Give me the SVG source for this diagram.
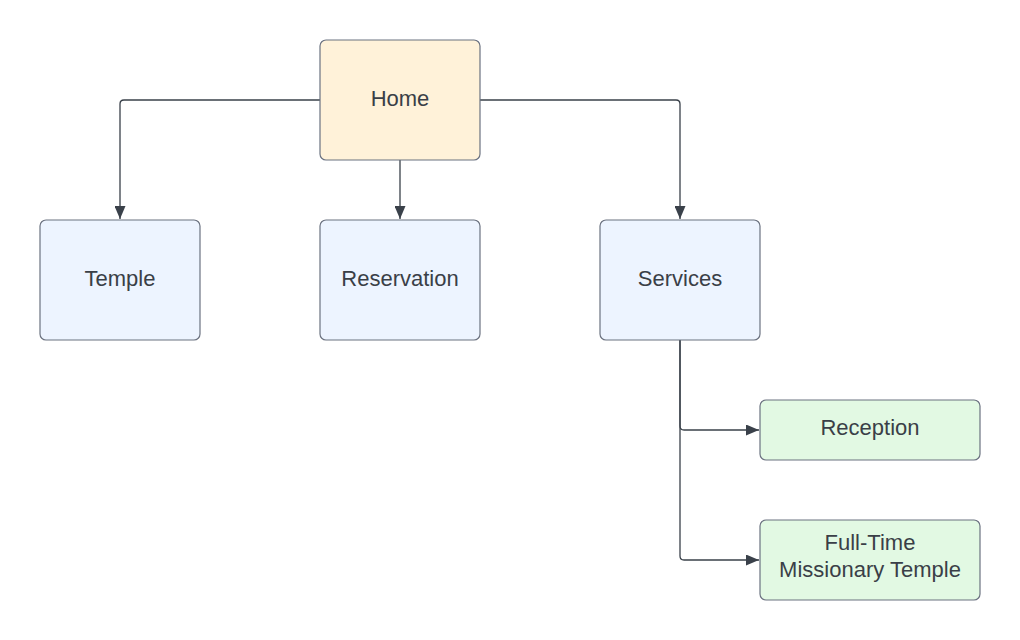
<svg xmlns="http://www.w3.org/2000/svg" width="1020" height="640" viewBox="0 0 1020 640">
<style>
.box{stroke:#6b7280;stroke-width:1.2}
.home{fill:#fff2d9}
.blue{fill:#edf4ff}
.green{fill:#e2f9e3}
.lbl{font-family:"Liberation Sans",Arial,sans-serif;font-size:22px;fill:#3a3f47;text-anchor:middle;dominant-baseline:central}
.con{fill:none;stroke:#3a414a;stroke-width:1.3}
</style>
<defs>
<marker id="arr" viewBox="0 0 13 11" refX="13" refY="5.5" markerWidth="13" markerHeight="11" markerUnits="userSpaceOnUse" orient="auto">
<path d="M0,0 L13,5.5 L0,11 Z" fill="#3a414a"/>
</marker>
</defs>
<rect width="1020" height="640" fill="#ffffff"/>
<g id="connectors">
<path class="con" d="M320,100 H124 Q120,100 120,104 V219" marker-end="url(#arr)"/>
<path class="con" d="M400,160 V219" marker-end="url(#arr)"/>
<path class="con" d="M480,100 H676 Q680,100 680,104 V219" marker-end="url(#arr)"/>
<path class="con" d="M680,340 V426 Q680,430 684,430 H759" marker-end="url(#arr)"/>
<path class="con" d="M680,340 V556 Q680,560 684,560 H759" marker-end="url(#arr)"/>
</g>
<g id="home">
<rect class="box home" x="320" y="40" width="160" height="120" rx="6"/>
<text class="lbl" x="400" y="98">Home</text>
</g>
<g id="temple">
<rect class="box blue" x="40" y="220" width="160" height="120" rx="6"/>
<text class="lbl" x="120" y="278">Temple</text>
</g>
<g id="reservation">
<rect class="box blue" x="320" y="220" width="160" height="120" rx="6"/>
<text class="lbl" x="400" y="278">Reservation</text>
</g>
<g id="services">
<rect class="box blue" x="600" y="220" width="160" height="120" rx="6"/>
<text class="lbl" x="680" y="278">Services</text>
</g>
<g id="reception">
<rect class="box green" x="760" y="400" width="220" height="60" rx="6"/>
<text class="lbl" x="870" y="427">Reception</text>
</g>
<g id="fulltime">
<rect class="box green" x="760" y="520" width="220" height="80" rx="6"/>
<text class="lbl" x="870" y="542">Full-Time</text>
<text class="lbl" x="870" y="569">Missionary Temple</text>
</g>
</svg>
